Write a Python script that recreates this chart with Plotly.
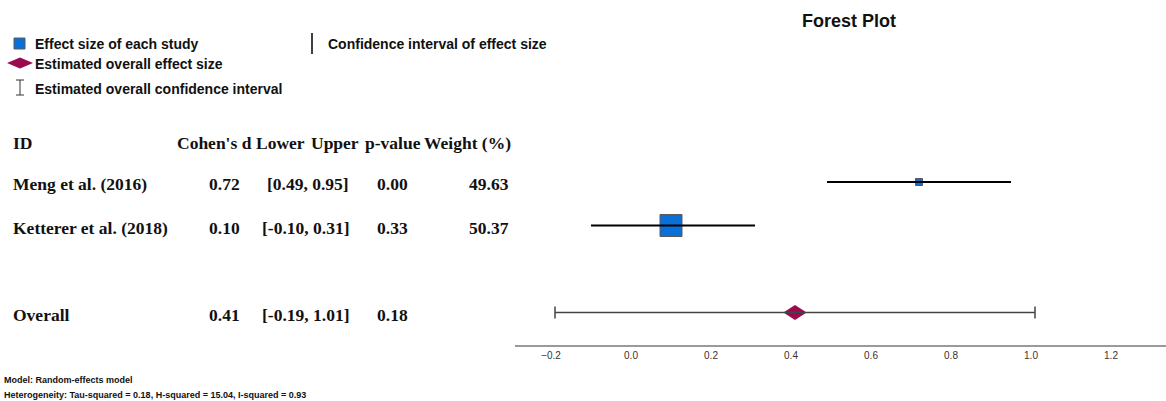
import plotly.graph_objects as go

# ---------------- data ----------------
study_ids = ["Meng et al. (2016)", "Ketterer et al. (2018)"]
cohens_d = [0.72, 0.10]
ci_lower = [0.49, -0.10]
ci_upper = [0.95, 0.31]
p_values = [0.00, 0.33]
weights = [49.63, 50.37]

overall_label = "Overall"
overall_d = 0.41
overall_lower = -0.19
overall_upper = 1.01
overall_p = 0.18

tau_squared = 0.18
h_squared = 15.04
i_squared = 0.93

tick_values = [-0.2, 0.0, 0.2, 0.4, 0.6, 0.8, 1.0, 1.2]

# ---------------- styles ----------------
W, H = 1166, 401
study_marker_sizes = [7, 22]
study_rows = [0, 1]
overall_row = 3
diamond_half_w = 0.029   # x units
diamond_half_h = 0.17    # row units
BLUE = "#0a6fd6"
DIAMOND = "#9b0a4f"
SERIF = "Liberation Serif, Cambria, Times New Roman, serif"
SANS = "Liberation Sans, Arial, sans-serif"
NARROW = "Liberation Sans Narrow, Arial Narrow, Liberation Sans, sans-serif"
PAD = 2  # annotation inner padding compensation


def px(x):
    return x / W


def py(y):
    return 1 - y / H


# axis geometry (pixel space)
axis_left_px, axis_line_px = 515, 345
zero_px, px_per_unit = 631, 400
row0_px, row_step_px = 182, 43.5

x_range = [(axis_left_px - zero_px) / px_per_unit, (W - zero_px) / px_per_unit]
y_range = [(axis_line_px - row0_px) / row_step_px, (0 - row0_px) / row_step_px]

fig = go.Figure()

# study squares
fig.add_trace(go.Scatter(
    x=cohens_d, y=study_rows, mode="markers",
    marker=dict(symbol="square", size=study_marker_sizes, color=BLUE, opacity=1,
                line=dict(color="#5a5a5a", width=1)),
    showlegend=False, hoverinfo="skip"))

# study CIs (drawn over the squares)
fig.add_trace(go.Scatter(
    x=cohens_d, y=study_rows, mode="markers",
    marker=dict(size=1, opacity=0),
    error_x=dict(type="data", symmetric=False,
                 array=[u - d for u, d in zip(ci_upper, cohens_d)],
                 arrayminus=[d - l for d, l in zip(cohens_d, ci_lower)],
                 width=0, thickness=2, color="#000000"),
    showlegend=False, hoverinfo="skip"))

# overall diamond
fig.add_trace(go.Scatter(
    x=[overall_d - diamond_half_w, overall_d, overall_d + diamond_half_w, overall_d,
       overall_d - diamond_half_w],
    y=[overall_row, overall_row - diamond_half_h, overall_row,
       overall_row + diamond_half_h, overall_row],
    mode="lines", fill="toself", fillcolor=DIAMOND,
    line=dict(width=0, color=DIAMOND),
    showlegend=False, hoverinfo="skip"))

# overall CI
fig.add_trace(go.Scatter(
    x=[overall_d], y=[overall_row], mode="markers",
    marker=dict(size=1, opacity=0),
    error_x=dict(type="data", symmetric=False,
                 array=[overall_upper - overall_d],
                 arrayminus=[overall_d - overall_lower],
                 width=6, thickness=1.5, color="#444444"),
    showlegend=False, hoverinfo="skip"))

annotations = []


def add_text(text, x, y, xanchor="left", font=SERIF, size=17.5, bold=True,
             color="#111111", yref="paper"):
    if xanchor == "left":
        x -= PAD
    elif xanchor == "right":
        x += PAD
    annotations.append(dict(
        text=f"<b>{text}</b>" if bold else text,
        x=px(x), y=y, xref="paper", yref=yref,
        xanchor=xanchor, yanchor="middle", showarrow=False,
        font=dict(family=font, size=size, color=color)))


# title
add_text("Forest Plot", 849, py(21), xanchor="center", font=SANS, size=18)

# legend
legend_items = [
    ("Effect size of each study", 35, 44),
    ("Estimated overall effect size", 35, 64),
    ("Estimated overall confidence interval", 35, 89),
    ("Confidence interval of effect size", 328, 44),
]
for txt, lx, ly in legend_items:
    add_text(txt, lx, py(ly), font=SANS, size=14)

# table header
header_y = py(143)
add_text("ID", 13, header_y)
add_text("Cohen's d", 177, header_y)
add_text("Lower", 256, header_y)
add_text("Upper", 311, header_y)
add_text("p-value", 365, header_y)
add_text("Weight (%)", 511, header_y, xanchor="right")

# table rows
for sid, d, lo, hi, p, w, r in zip(study_ids, cohens_d, ci_lower, ci_upper,
                                   p_values, weights, study_rows):
    add_text(sid, 13, r + 0.05, yref="y")
    add_text(f"{d:.2f}", 240, r + 0.05, xanchor="right", yref="y")
    add_text(f"[{lo:.2f}, {hi:.2f}]", 349, r + 0.05, xanchor="right", yref="y")
    add_text(f"{p:.2f}", 377, r + 0.05, yref="y")
    add_text(f"{w:.2f}", 509, r + 0.05, xanchor="right", yref="y")

add_text(overall_label, 13, overall_row + 0.05, yref="y")
add_text(f"{overall_d:.2f}", 240, overall_row + 0.05, xanchor="right", yref="y")
add_text(f"[{overall_lower:.2f}, {overall_upper:.2f}]", 349, overall_row + 0.05,
         xanchor="right", yref="y")
add_text(f"{overall_p:.2f}", 377, overall_row + 0.05, yref="y")

# footnotes
add_text("Model: Random-effects model", 4, py(380), font=NARROW, size=9)
add_text(f"Heterogeneity: Tau-squared = {tau_squared:.2f}, H-squared = {h_squared:.2f}, "
         f"I-squared = {i_squared:.2f}", 4, py(395), font=NARROW, size=9)

# legend symbols (decorations in paper space)
shapes = [
    dict(type="rect", xref="paper", yref="paper",
         x0=px(14), x1=px(25), y0=py(38), y1=py(49),
         fillcolor=BLUE, line=dict(color="#5a5a5a", width=1)),
    dict(type="path", xref="paper", yref="paper",
         path=f"M {px(7)} {py(63)} L {px(20)} {py(57.5)} L {px(33)} {py(63)} "
              f"L {px(20)} {py(68.5)} Z",
         fillcolor=DIAMOND, line=dict(width=0)),
    dict(type="line", xref="paper", yref="paper",
         x0=px(20), x1=px(20), y0=py(80), y1=py(95), line=dict(color="#333", width=1)),
    dict(type="line", xref="paper", yref="paper",
         x0=px(16), x1=px(24), y0=py(80), y1=py(80), line=dict(color="#333", width=1)),
    dict(type="line", xref="paper", yref="paper",
         x0=px(16), x1=px(24), y0=py(95), y1=py(95), line=dict(color="#333", width=1)),
    dict(type="line", xref="paper", yref="paper",
         x0=px(312), x1=px(312), y0=py(33), y1=py(54), line=dict(color="#000", width=1.5)),
]

fig.update_layout(
    width=W, height=H,
    margin=dict(l=0, r=0, t=0, b=0),
    paper_bgcolor="white", plot_bgcolor="white",
    showlegend=False,
    annotations=annotations,
    shapes=shapes,
    xaxis=dict(domain=[px(axis_left_px), 1], range=x_range,
               showgrid=False, zeroline=False,
               showline=True, linecolor="#9a9a9a", linewidth=1.5,
               ticks="", tickvals=tick_values, tickformat=".1f",
               tickfont=dict(family=NARROW, size=10, color="#333333"),
               fixedrange=True),
    yaxis=dict(domain=[py(axis_line_px), 1], range=y_range,
               visible=False, fixedrange=True),
)

fig.write_html("out.html",
               config={"displayModeBar": False, "staticPlot": True},
               post_script="document.body.style.margin='0';"
                           "document.body.style.overflow='hidden';")
